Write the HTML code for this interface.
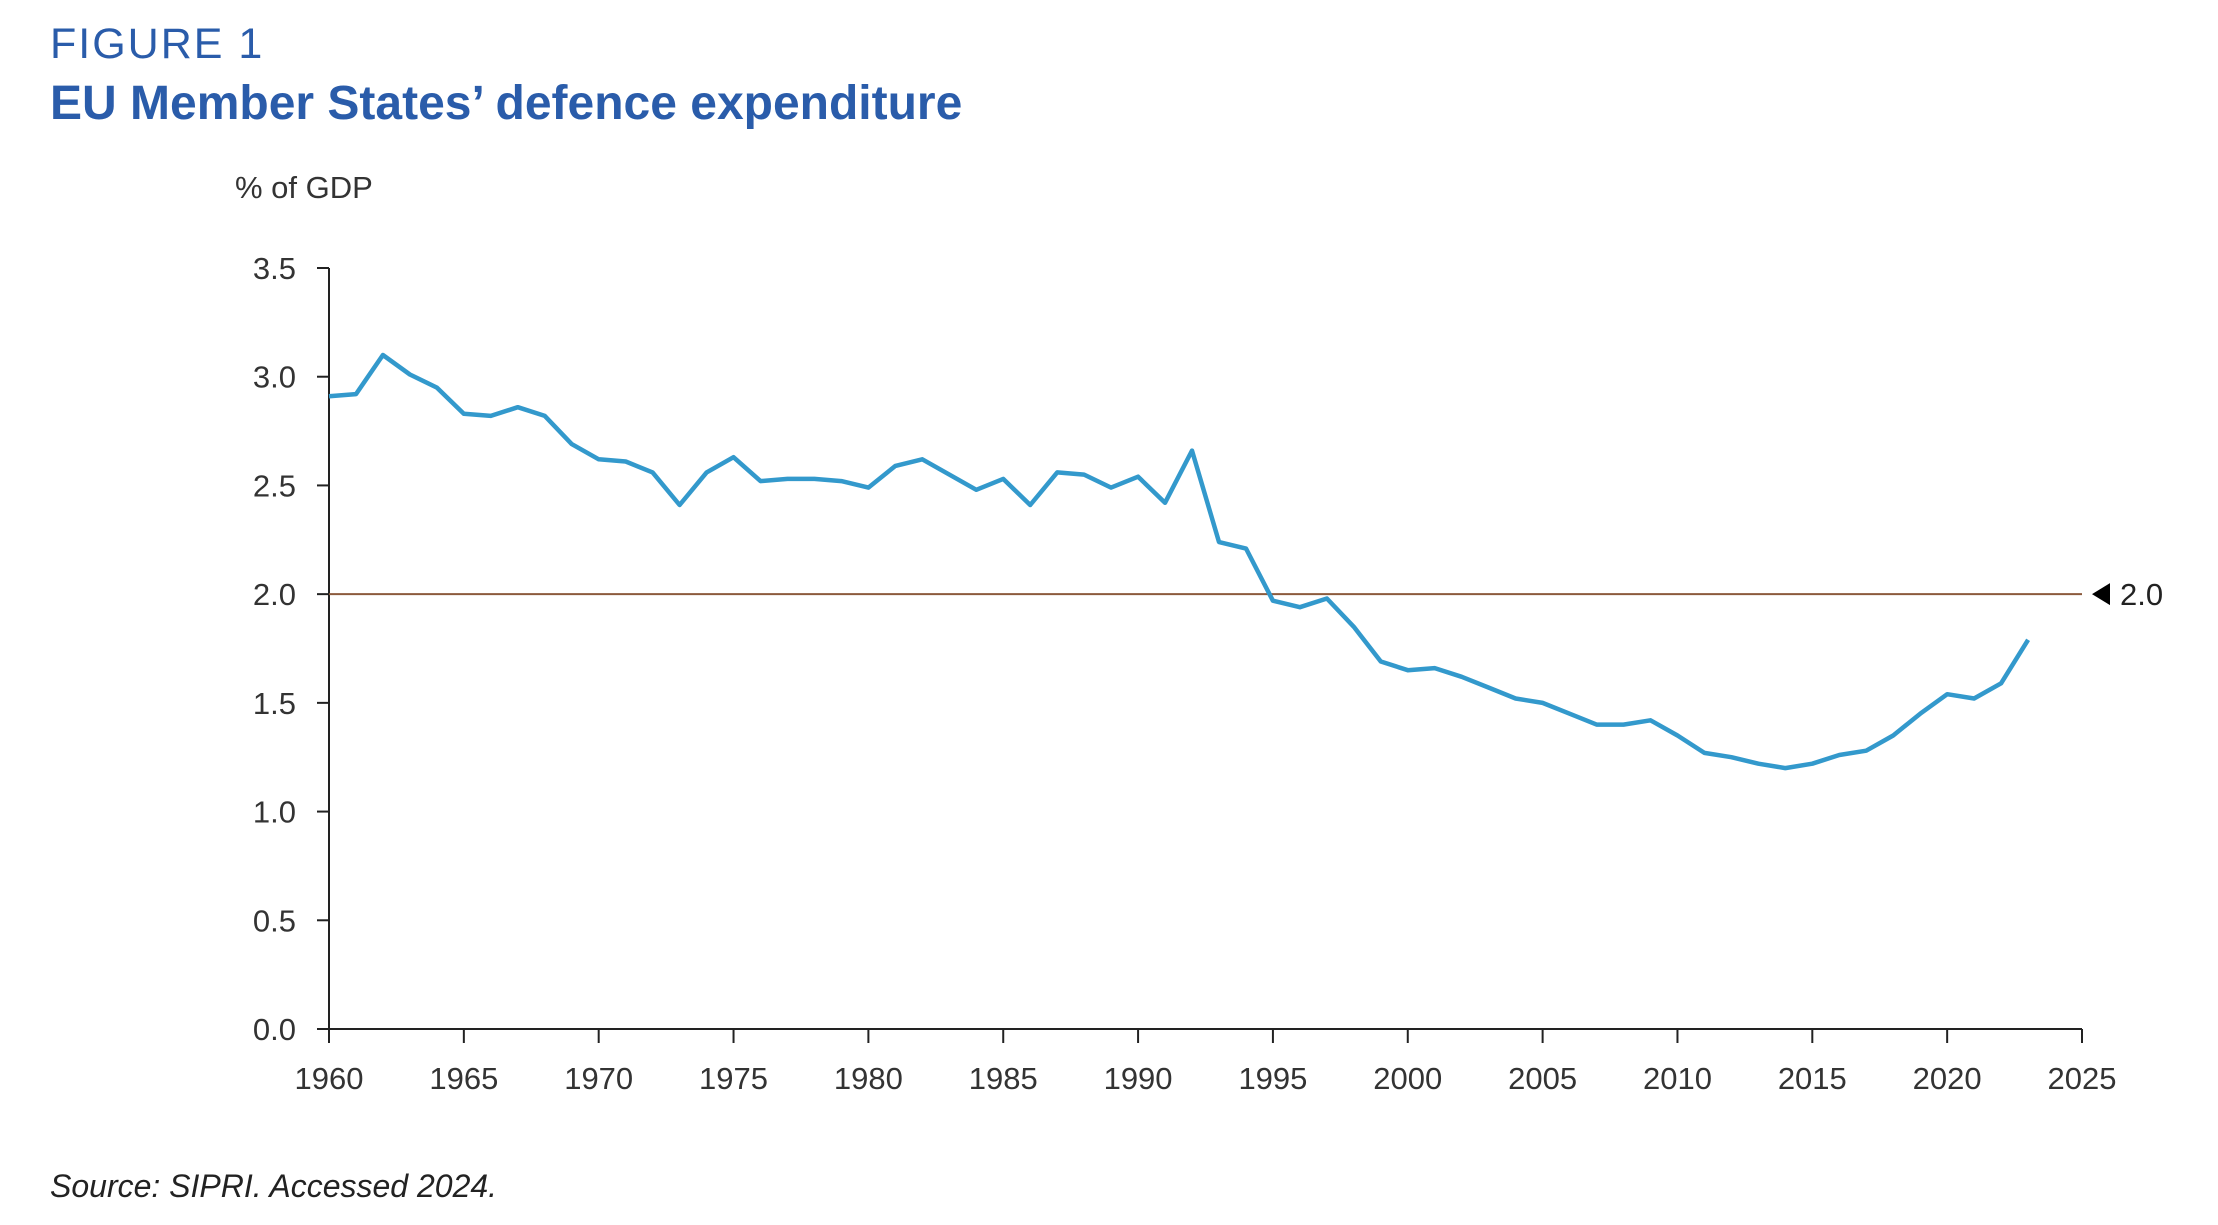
<!DOCTYPE html>
<html><head><meta charset="utf-8">
<style>
body{margin:0;background:#fff;}
#wrap{position:relative;width:2218px;height:1225px;overflow:hidden;background:#fff;font-family:"Liberation Sans",sans-serif;}
.fig{position:absolute;left:50px;top:20px;font-size:43px;letter-spacing:2px;color:#2a5caa;font-weight:300;}
.title{position:absolute;left:50px;top:76px;font-size:48px;font-weight:bold;color:#2a5caa;letter-spacing:0px;}
.src{position:absolute;left:50px;top:1168px;font-size:32px;font-style:italic;color:#222;}
</style></head><body>
<div id="wrap">
<div class="fig">FIGURE 1</div>
<div class="title">EU Member States’ defence expenditure</div>
<svg id="chart" width="2218" height="1225" style="position:absolute;left:0;top:0"></svg>
<div class="src">Source: SIPRI. Accessed 2024.</div>
</div>
<script>
const years=[1960,1961,1962,1963,1964,1965,1966,1967,1968,1969,1970,1971,1972,1973,1974,1975,1976,1977,1978,1979,1980,1981,1982,1983,1984,1985,1986,1987,1988,1989,1990,1991,1992,1993,1994,1995,1996,1997,1998,1999,2000,2001,2002,2003,2004,2005,2006,2007,2008,2009,2010,2011,2012,2013,2014,2015,2016,2017,2018,2019,2020,2021,2022,2023];
const values=[2.91,2.92,3.10,3.01,2.95,2.83,2.82,2.86,2.82,2.69,2.62,2.61,2.56,2.41,2.56,2.63,2.52,2.53,2.53,2.52,2.49,2.59,2.62,2.55,2.48,2.53,2.41,2.56,2.55,2.49,2.54,2.42,2.66,2.24,2.21,1.97,1.94,1.98,1.85,1.69,1.65,1.66,1.62,1.57,1.52,1.50,1.45,1.40,1.40,1.42,1.35,1.27,1.25,1.22,1.20,1.22,1.26,1.28,1.35,1.45,1.54,1.52,1.59,1.79];
const xTicks=[1960,1965,1970,1975,1980,1985,1990,1995,2000,2005,2010,2015,2020,2025];
const yTicks=[0,0.5,1,1.5,2,2.5,3,3.5];
const refValue=[2.0];

const NS="http://www.w3.org/2000/svg";
const svg=document.getElementById('chart');
const X0=329,X1=2082,Y0=1029,Y1=268;
const x=v=>X0+(v-1960)/(2025-1960)*(X1-X0);
const y=v=>Y0-v/3.5*(Y0-Y1);
function el(t,a){const e=document.createElementNS(NS,t);for(const k in a)e.setAttribute(k,a[k]);svg.appendChild(e);return e;}
const F='"Liberation Sans",sans-serif';

let t=el('text',{x:235,y:198,'font-size':31,'font-family':F,fill:'#333'});t.textContent='% of GDP';



let a=el('line',{x1:X0,y1:Y1,x2:X0,y2:Y0,stroke:'#222','stroke-width':2});


a=el('line',{x1:X0,y1:Y0,x2:X1,y2:Y0,stroke:'#222','stroke-width':2});



yTicks.forEach(v=>{
  const tk=el('line',{x1:X0-12,y1:y(v),x2:X0,y2:y(v),stroke:'#222','stroke-width':2});
  
  
  const lb=el('text',{x:296,y:y(v)+11,'text-anchor':'end','font-size':31,'font-family':F,fill:'#333'});
  lb.textContent=v.toFixed(1);
  
  
});
xTicks.forEach(v=>{
  const tk=el('line',{x1:x(v),y1:Y0,x2:x(v),y2:Y0+14,stroke:'#222','stroke-width':2});
  
  
  const lb=el('text',{x:x(v),y:1089,'text-anchor':'middle','font-size':31,'font-family':F,fill:'#333'});
  lb.textContent=v;
  
  
});

const rv=refValue[0];
let r=el('line',{x1:X0,y1:y(rv),x2:X1,y2:y(rv),stroke:'#8b5a3c','stroke-width':2});


r=el('polygon',{points:`${X1+10},${y(rv)} ${X1+28},${y(rv)-11} ${X1+28},${y(rv)+11}`,fill:'#000'});


r=el('text',{x:X1+38,y:y(rv)+11,'font-size':31,'font-family':F,fill:'#222'});
r.textContent=rv.toFixed(1);



const pts=years.map((yr,i)=>x(yr).toFixed(1)+','+y(values[i]).toFixed(1)).join(' ');
const ln=el('polyline',{points:pts,fill:'none',stroke:'#3399cc','stroke-width':4.5,'stroke-linejoin':'round'});


</script>
</body></html>
